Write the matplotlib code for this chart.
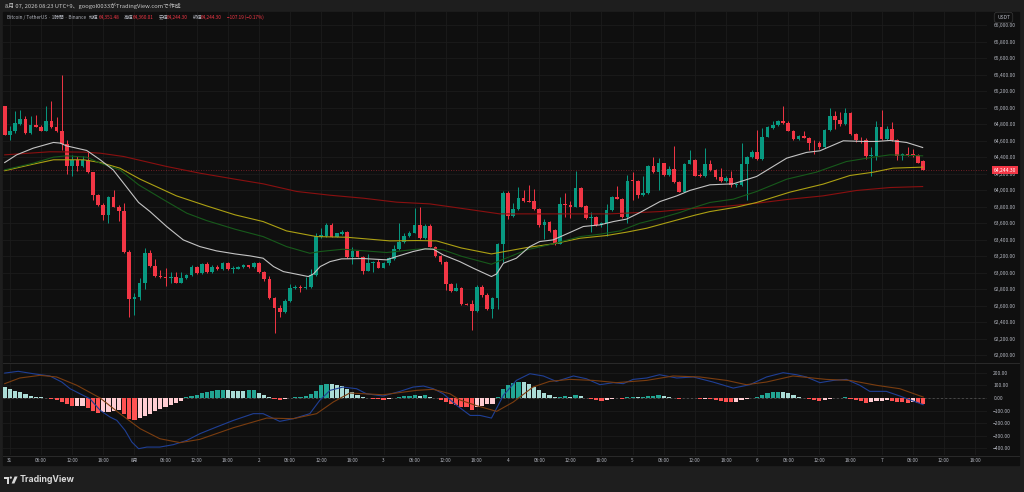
import matplotlib.pyplot as plt
from matplotlib.patches import Rectangle, Polygon, Circle
from matplotlib.lines import Line2D

plt.rcParams['font.family'] = ['Noto Sans CJK JP', 'DejaVu Sans']

W, H = 1024, 492

# hourly candles, 30 Jul 23:00 -> 7 Aug 08:00
opens = [65014, 64671, 64719, 64804, 64861, 64691, 64788, 64768, 64719, 64840,
         64764, 64711, 64562, 64287, 64360, 64287, 64360, 64218, 63939, 63826,
         63705, 63915, 63802, 63745, 63257, 62679, 62711, 62873, 63245, 63087,
         62966, 62950, 62937, 62946, 62881, 62937, 62970, 63071, 62994, 63107,
         63010, 63075, 63042, 63123, 63042, 63051, 63067, 63091, 63067, 63123,
         63006, 62925, 62699, 62578, 62525, 62659, 62812, 62828, 62816, 62824,
         62978, 63438, 63451, 63580, 63438, 63471, 63499, 63188, 63269, 63196,
         63026, 63123, 63131, 63063, 63115, 63172, 63293, 63374, 63451, 63487,
         63576, 63418, 63568, 63317, 63208, 63135, 62865, 62784, 62816, 62626,
         62618, 62542, 62832, 62735, 62558, 62699, 63350, 63964, 63689, 63770,
         63903, 63871, 63867, 63770, 63580, 63616, 63519, 63354, 63838, 63818,
         63802, 64024, 63810, 63661, 63681, 63580, 63600, 63754, 63919, 63899,
         63677, 64125, 64117, 63939, 63964, 64295, 64222, 64327, 64186, 64259,
         64101, 63980, 64323, 64364, 64182, 64166, 64319, 64246, 64154, 64113,
         64145, 64057, 64065, 64323, 64396, 64465, 64376, 64650, 64756, 64788,
         64832, 64812, 64719, 64622, 64654, 64638, 64574, 64570, 64517, 64727,
         64893, 64852, 64800, 64929, 64675, 64610, 64610, 64408, 64416, 64764,
         64618, 64747, 64602, 64408, 64436, 64428, 64428, 64351.48]
highs = [65014, 64772, 64953, 64974, 64893, 64893, 64913, 64792, 65014, 65075,
         64885, 65398, 64610, 64428, 64416, 64416, 64469, 64226, 63956, 63842,
         63935, 64004, 63822, 63842, 63277, 62760, 62933, 63297, 63277, 63172,
         63034, 63055, 63014, 63014, 63014, 62986, 63095, 63083, 63123, 63131,
         63091, 63091, 63135, 63131, 63083, 63083, 63107, 63099, 63131, 63131,
         63018, 62962, 62711, 62610, 62679, 62865, 62853, 62853, 62954, 63042,
         63479, 63539, 63600, 63608, 63487, 63519, 63511, 63317, 63277, 63204,
         63228, 63148, 63172, 63135, 63196, 63341, 63600, 63479, 63503, 63782,
         63794, 63592, 63592, 63325, 63216, 63148, 62873, 62873, 62832, 62630,
         62671, 62853, 62853, 62752, 62711, 63366, 63988, 63984, 63842, 64044,
         64004, 64065, 64012, 63782, 63649, 63632, 63527, 63923, 63964, 63863,
         64238, 64036, 63822, 63741, 63689, 63620, 63834, 63931, 64053, 63911,
         64186, 64226, 64125, 64174, 64307, 64400, 64388, 64335, 64287, 64537,
         64109, 64335, 64489, 64376, 64214, 64509, 64368, 64255, 64267, 64166,
         64238, 64085, 64570, 64416, 64489, 64731, 64751, 64780, 64832, 64852,
         65014, 64832, 64731, 64667, 64711, 64650, 64602, 64590, 64739, 64994,
         64953, 64941, 64994, 64941, 64691, 64650, 64630, 64529, 64832, 64974,
         64772, 64820, 64618, 64448, 64521, 64497, 64440, 64360.01]
lows = [64671, 64602, 64691, 64792, 64683, 64683, 64764, 64711, 64711, 64751,
        64699, 64489, 64198, 64166, 64238, 64279, 64206, 63883, 63810, 63640,
        63608, 63794, 63632, 63245, 62469, 62489, 62671, 62800, 63075, 62954,
        62933, 62845, 62873, 62873, 62873, 62921, 62962, 62986, 62986, 63002,
        63002, 63034, 63034, 63034, 63002, 63042, 63059, 63059, 63059, 62998,
        62905, 62679, 62267, 62461, 62509, 62651, 62804, 62772, 62808, 62816,
        62962, 63418, 63438, 63430, 63430, 63463, 63176, 63107, 63188, 62986,
        63018, 63010, 63055, 63055, 63091, 63156, 63277, 63358, 63438, 63479,
        63406, 63406, 63309, 63196, 63107, 62792, 62772, 62776, 62610, 62606,
        62307, 62529, 62711, 62550, 62449, 62566, 63131, 63649, 63681, 63762,
        63859, 63851, 63762, 63560, 63414, 63495, 63341, 63346, 63681, 63661,
        63794, 63794, 63649, 63499, 63568, 63560, 63451, 63745, 63891, 63665,
        63608, 63875, 63903, 63931, 63956, 64214, 64004, 64174, 64174, 64093,
        63972, 63972, 64315, 64166, 64158, 64158, 64238, 64141, 64101, 64101,
        64044, 64044, 64053, 63883, 64384, 64368, 64368, 64642, 64743, 64780,
        64804, 64711, 64610, 64610, 64626, 64489, 64440, 64497, 64505, 64719,
        64739, 64780, 64792, 64667, 64578, 64570, 64376, 64166, 64360, 64602,
        64602, 64590, 64368, 64360, 64416, 64400, 64327, 64244.30]
closes = [64671, 64719, 64812, 64861, 64691, 64788, 64768, 64719, 64840, 64764,
          64711, 64562, 64287, 64360, 64287, 64360, 64218, 63939, 63826, 63705,
          63915, 63802, 63745, 63257, 62679, 62711, 62873, 63245, 63087, 62966,
          62946, 62937, 62946, 62881, 62937, 62970, 63071, 62994, 63107, 63010,
          63075, 63042, 63123, 63042, 63051, 63067, 63091, 63067, 63123, 63006,
          62925, 62699, 62570, 62525, 62659, 62812, 62828, 62812, 62832, 62978,
          63447, 63459, 63580, 63438, 63479, 63499, 63188, 63269, 63196, 63026,
          63123, 63131, 63063, 63115, 63176, 63293, 63374, 63451, 63487, 63576,
          63418, 63568, 63317, 63208, 63135, 62865, 62784, 62816, 62618, 62614,
          62542, 62832, 62735, 62558, 62699, 63350, 63964, 63689, 63770, 63903,
          63867, 63859, 63770, 63580, 63616, 63511, 63354, 63838, 63818, 63802,
          64024, 63802, 63661, 63681, 63580, 63600, 63754, 63919, 63899, 63677,
          64117, 64117, 63939, 63964, 64295, 64222, 64327, 64186, 64259, 64101,
          63980, 64323, 64364, 64174, 64166, 64319, 64246, 64154, 64113, 64145,
          64061, 64073, 64323, 64396, 64465, 64376, 64650, 64760, 64788, 64832,
          64812, 64719, 64622, 64654, 64638, 64570, 64566, 64517, 64727, 64893,
          64852, 64800, 64929, 64675, 64602, 64602, 64408, 64424, 64764, 64618,
          64747, 64602, 64408, 64436, 64424, 64424, 64335, 64244.30]

# moving averages, read at sample points (candle index, price)
ma_fast_idx = [0, 2.3, 5.5, 9.4, 10.7, 11.9, 15.8, 18.4, 20.9, 22.9, 25.8, 28, 31.2, 34.4,
               37.6, 40.8, 44.4, 47.3, 49.8, 51.8, 53.7, 56.3, 58.5, 59.5, 60.8, 62.7, 64.9,
               69.1, 73.6, 75.5, 78.7, 81, 82.6, 84.5, 87.7, 90.3, 93.8, 94.8, 96.1, 98.6,
               101.2, 103.1, 105.7, 108.9, 111.5, 114.7, 117.3, 119.8, 122.4, 126.3, 129.5,
               132, 135.9, 140.4, 144.9, 150.7, 154.5, 157.1, 161.6, 165.4, 168, 170.6, 173.8, 176.9]
ma_fast_val = [64335, 64428, 64509, 64578, 64570, 64537, 64481, 64368, 64246, 64085, 63851,
               63741, 63560, 63398, 63317, 63265, 63228, 63204, 63176, 63075, 63014, 62982,
               62954, 62986, 63075, 63135, 63168, 63172, 63156, 63196, 63257, 63289, 63285,
               63216, 63135, 63055, 62954, 62986, 63115, 63176, 63317, 63378, 63398, 63487,
               63560, 63580, 63620, 63649, 63729, 63863, 63931, 63996, 64065, 64077, 64166,
               64388, 64457, 64477, 64598, 64590, 64590, 64602, 64578, 64517]
ma_mid_idx = [0, 5.5, 9.4, 11.9, 15.8, 18.4, 22.2, 25.8, 31.2, 35.1, 38.9, 44.4, 49.8, 54.3,
              58.8, 60.8, 65.2, 73.6, 79.4, 81.9, 84.5, 88, 93.8, 96.1, 100.6, 105.7, 110.9,
              114.7, 118.6, 122.4, 126.3, 130.1, 133, 135.9, 140.4, 144.9, 150.7, 156.4,
              162.2, 167.4, 170.6, 176.9]
ma_mid_val = [64246, 64327, 64400, 64416, 64400, 64327, 64246, 64065, 63863, 63721, 63632,
              63527, 63438, 63317, 63236, 63257, 63285, 63245, 63285, 63289, 63277, 63200,
              63103, 63164, 63277, 63350, 63438, 63467, 63507, 63600, 63661, 63729, 63794,
              63851, 63891, 63984, 64133, 64218, 64347, 64400, 64428, 64416]
ma_slow_idx = [0, 5.5, 9.4, 15.2, 18.4, 22.2, 26.1, 33.1, 38.9, 44.4, 49.8, 54.3, 60.1, 65.9,
               74.2, 79.4, 83.2, 88, 93.8, 100.6, 105.7, 110.9, 116, 119.8, 123.7, 128.2, 133,
               135.9, 141, 144.9, 151.3, 157.7, 162.9, 167.4, 171.2, 176.9]
ma_slow_val = [64236, 64315, 64368, 64368, 64335, 64267, 64133, 63931, 63810, 63701, 63620,
               63507, 63438, 63430, 63386, 63390, 63386, 63300, 63228, 63305, 63350, 63418,
               63451, 63491, 63539, 63616, 63697, 63741, 63794, 63851, 63976, 64073, 64178,
               64218, 64267, 64279]
ma_long_idx = [0, 8.7, 15.2, 18.4, 22.9, 31.2, 37.6, 44.4, 49.8, 56.3, 62.7, 69.1, 75.5, 81.9,
               88, 95.4, 107, 116.6, 126.3, 133, 138.5, 144.9, 151.3, 157.7, 164.1, 170.6, 176.9]
ma_long_val = [64428, 64465, 64461, 64448, 64408, 64287, 64206, 64133, 64077, 63984, 63939,
               63903, 63855, 63834, 63780, 63713, 63713, 63713, 63741, 63782, 63802, 63842,
               63891, 63931, 63996, 64032, 64044]

# MACD
hist = [87, 75, 55, 45, 33, 18, 10, 5, -2, -5,
        -15, -35, -50, -65, -63, -60, -80, -100, -118, -112,
        -108, -100, -95, -130, -165, -172, -160, -145, -125, -105,
        -90, -70, -55, -40, -20, 5, 15, 25, 40, 50,
        58, 60, 62, 60, 59, 58, 55, 60, 61, 40,
        25, 8, -8, -12, -10, 3, 8, 12, 15, 30,
        55, 105, 110, 108, 100, 95, 70, 45, 25, 10,
        -2, -5, -10, -12, -10, 3, 10, 15, 18, 25,
        20, 28, 12, 2, -15, -30, -45, -55, -70, -75,
        -95, -70, -60, -50, -45, 5, 75, 105, 120, 128,
        125, 110, 85, 60, 40, 22, 5, 12, 13, 10,
        22, 15, 3, -5, -15, -20, -12, -5, -3, -10,
        5, 10, 8, 12, 18, 20, 25, 18, 12, 3,
        -5, -3, 3, -3, -8, -5, -8, -15, -25, -30,
        -35, -30, -15, -5, 3, 10, 25, 40, 45, 50,
        48, 40, 25, 10, 2, -8, -12, -20, -12, -5,
        -2, -1, 5, -8, -15, -25, -40, -30, -25, -20,
        -15, -22, -30, -35, -38, -30, -38, -45]
macd_idx = [0, 2.6, 5.5, 8.7, 11, 12.6, 14.5, 16.4, 18.4, 20.3, 21.6, 23.2, 24.5, 25.8, 27.4,
            29.9, 32.5, 35.1, 37.6, 40.8, 44.1, 47.9, 49.8, 53, 55.6, 58.8, 60.7, 62.7, 65.2,
            67.8, 69.7, 72.9, 76.2, 78.7, 80.7, 82.6, 84.5, 87.1, 89.7, 91.6, 93.8, 96.1, 98.6,
            101.2, 103.8, 106.3, 109.6, 112.1, 114.7, 117.3, 119.2, 121.1, 123.7, 126.2, 129.5,
            132.7, 136.5, 140.4, 143.6, 146.8, 150, 152.6, 154.5, 157.1, 159.7, 162.2, 164.8,
            166.7, 169.9, 172.5, 177]
macd_val = [198, 212, 193, 175, 127, 74, 34, -5, -98, -151, -177, -257, -349, -402, -389,
            -389, -370, -336, -283, -230, -177, -124, -124, -185, -164, -124, -19, 61, 87, 74,
            34, 16, 53, 87, 95, 74, 34, -58, -138, -138, -159, 21, 140, 193, 175, 132, 175,
            153, 106, 122, 114, 148, 159, 185, 159, 167, 127, 79, 106, 167, 201, 185, 167,
            122, 140, 148, 101, 53, 53, 16, -53]
signal_idx = [0, 2.9, 6.8, 10, 13.9, 18.4, 22.2, 26.1, 29.9, 33.8, 37.6, 44.1, 50.5, 55.6,
              60.1, 63.3, 66.5, 72.9, 79.4, 82.6, 85.8, 87.7, 90.9, 94.8, 98, 101.8, 105,
              108.9, 113.4, 117.9, 123.7, 128.8, 134, 139.1, 142.9, 146.8, 151.9, 158.3,
              162.9, 168, 172.5, 177]
signal_val = [114, 159, 180, 167, 101, 0, -124, -243, -323, -354, -328, -235, -159, -164,
              -124, -32, 40, 26, 61, 69, 34, -15, -60, -106, -32, 87, 132, 148, 140, 122, 140,
              175, 167, 140, 106, 127, 175, 148, 140, 101, 74, 8]

day_labels = ['31', '8月', '2', '3', '4', '5', '6', '7']
hour_labels = ['06:00', '12:00', '18:00']
price_ticks = list(range(62000, 66001, 200))
macd_ticks = [200, 100, 0, -100, -200, -300, -400]
last_price = 64244.30

UP, DOWN = '#089981', '#f23645'
TXT = '#b2b5be'
BG = '#0f0f0f'
GRID = '#1c1c1c'

fig = plt.figure(figsize=(W / 100, H / 100), dpi=100, facecolor='#1e1e1e')
fig.patches.append(Rectangle((3 / W, 1 - 465 / H), 1016 / W, 453 / H,
                             transform=fig.transFigure, color=BG, zorder=-10))

ax = fig.add_axes([3 / W, 1 - 362 / H, 984 / W, 350 / H], facecolor=BG)
axm = fig.add_axes([3 / W, 1 - 455 / H, 984 / W, 92 / H], facecolor=BG)

n = len(closes)
x = list(range(n))
xmin, xmax = -0.33, 189.3
tick_pos = [1 + 6 * k for k in range(32)]
tick_lab = [day_labels[k // 4] if k % 4 == 0 else hour_labels[k % 4 - 1] for k in range(32)]

# candles
col = [UP if c >= o else DOWN for o, c in zip(opens, closes)]
bottoms = [min(o, c) for o, c in zip(opens, closes)]
heights = [max(abs(c - o), 10) for o, c in zip(opens, closes)]
ax.vlines(x, lows, highs, colors=col, linewidth=0.7, zorder=2)
ax.bar(x, heights, bottom=bottoms, width=0.7, color=col, linewidth=0, zorder=2)

ax.plot(ma_long_idx, ma_long_val, color='#8a1010', lw=0.8, zorder=3)
ax.plot(ma_slow_idx, ma_slow_val, color='#aca013', lw=0.8, zorder=3)
ax.plot(ma_mid_idx, ma_mid_val, color='#175a1b', lw=0.8, zorder=3)
ax.plot(ma_fast_idx, ma_fast_val, color='#c4c4c4', lw=0.8, zorder=3)

ax.axhline(last_price, color=DOWN, linestyle=(0, (1, 2)), lw=0.6, alpha=0.55, zorder=1)
ax.annotate(f'{last_price:,.2f}', xy=(1, last_price), xycoords=('axes fraction', 'data'),
            xytext=(5, 0), textcoords='offset points', ha='left', va='center',
            fontsize=3.6, color='white', annotation_clip=False,
            bbox=dict(boxstyle='square,pad=0.35', fc=DOWN, ec='none'))

ax.set_xlim(xmin, xmax)
ax.set_ylim(61919, 66158)
ax.set_yticks(price_ticks)
ax.set_yticklabels([f'{v:,.2f}' for v in price_ticks])
ax.set_xticks(tick_pos)
ax.set_xticklabels([])

# MACD pane
hist_col = []
prev = None
for v in hist:
    if v >= 0:
        hist_col.append('#22a593' if prev is not None and v > prev else '#abdcd6')
    else:
        hist_col.append('#ff5252' if prev is not None and v < prev else '#ffcdd2')
    prev = v
axm.bar(x, hist, width=0.8, color=hist_col, linewidth=0, zorder=2)
axm.axhline(0, color='#5a5a5a', linestyle=(0, (3, 3)), lw=0.5, zorder=1)
axm.plot(macd_idx, macd_val, color='#1f3f95', lw=0.8, zorder=3)
axm.plot(signal_idx, signal_val, color='#7a3d0f', lw=0.8, zorder=3)
axm.set_xlim(xmin, xmax)
axm.set_ylim(-452, 278)
axm.set_yticks(macd_ticks)
axm.set_yticklabels([f'{v:.2f}'.replace('-', '\u2212') for v in macd_ticks])
axm.set_xticks(tick_pos)
axm.set_xticklabels(tick_lab)

for a in (ax, axm):
    a.yaxis.tick_right()
    a.tick_params(axis='y', length=0, pad=4.5, labelsize=3.6, labelcolor=TXT)
    a.tick_params(axis='x', length=0, pad=2.5, labelsize=3.4, labelcolor=TXT)
    a.grid(True, color=GRID, linewidth=0.6, zorder=0)
    a.set_axisbelow(True)
    for s in a.spines.values():
        s.set_visible(False)

# pane separators
for yy in (362.5, 455.5):
    fig.add_artist(Line2D([3 / W, 1019 / W], [1 - yy / H] * 2, color='#2a2a2a', lw=0.7))

# header / legend
fig.text(5 / W, 1 - 6 / H, '8月 07, 2026 08:23 UTC+9、googol0033がTradingView.comで作成',
         fontsize=4.2, color='#c8c8c8', va='center', ha='left')
legend_parts = [(7, 'Bitcoin / TetherUS · 1時間 · Binance', TXT),
                (89, '始値', TXT), (99, '64,351.48', DOWN),
                (124, '高値', TXT), (133, '64,360.01', DOWN),
                (159, '安値', TXT), (167, '64,244.30', DOWN),
                (193, '終値', TXT), (201, '64,244.30', DOWN),
                (227, '\u2212107.19 (\u22120.17%)', DOWN)]
for px, s, c in legend_parts:
    fig.text(px / W, 1 - 17.5 / H, s, fontsize=3.4, color=c, va='center', ha='left')

fig.text(997 / W, 1 - 17.5 / H, 'USDT', fontsize=3.6, color=TXT, va='center', ha='left',
         bbox=dict(boxstyle='round,pad=0.55', fc=BG, ec='#3a3a3a', lw=0.5))

# TradingView logo
lax = fig.add_axes([4 / W, 1 - 485 / H, 14 / W, 10 / H])
lax.set_xlim(0, 14)
lax.set_ylim(10, 0)
lax.axis('off')
lax.add_patch(Polygon([(0, 1.5), (5, 1.5), (5, 8.5), (2.8, 8.5), (2.8, 3.7), (0, 3.7)],
                      closed=True, color='#d9d9d9', lw=0))
lax.add_patch(Circle((6.8, 2.6), 1.15, color='#d9d9d9', lw=0))
lax.add_patch(Polygon([(10.6, 1.5), (13.6, 1.5), (10.4, 8.5), (7.6, 8.5)],
                      closed=True, color='#d9d9d9', lw=0))
fig.text(20 / W, 1 - 480 / H, 'TradingView', fontsize=6.3, fontweight='bold',
         color='#d9d9d9', va='center', ha='left', family=['Inter', 'DejaVu Sans'])

fig.savefig('out.png', dpi=100, facecolor=fig.get_facecolor())
